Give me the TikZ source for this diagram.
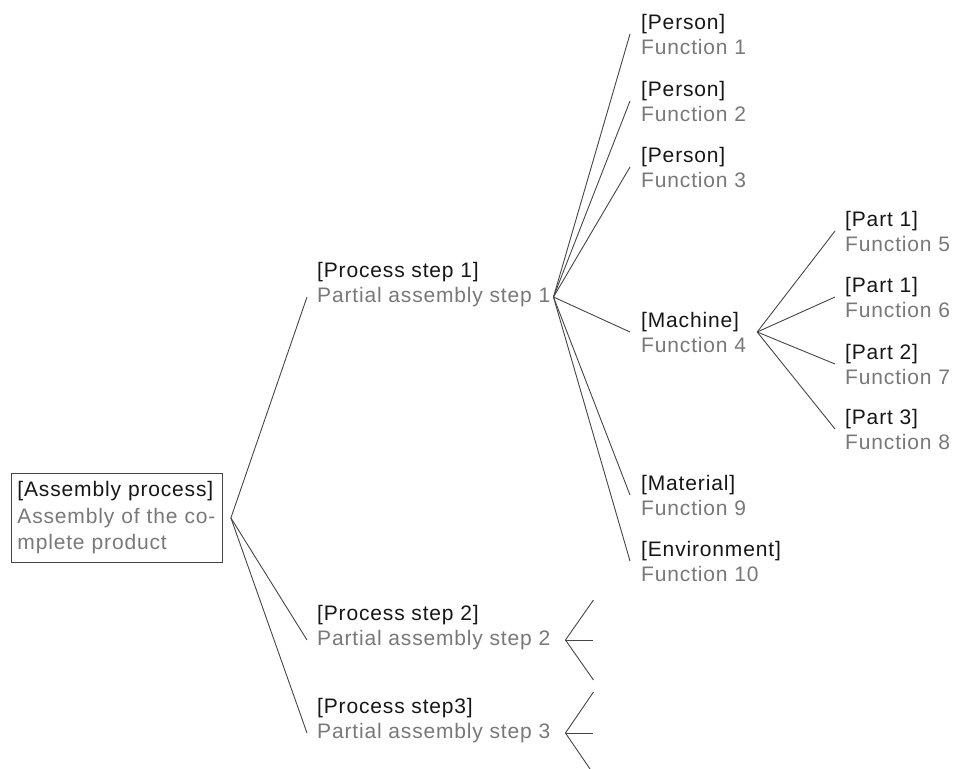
\documentclass[tikz,border=0pt]{standalone}
\usepackage{fontspec}
\setmainfont{Liberation Sans}[LetterSpace=4]
\usetikzlibrary{calc}
\definecolor{ink}{HTML}{161616}
\definecolor{fn}{HTML}{787878}
\definecolor{edge}{HTML}{454545}
% two-line entry: black title over a grey function line
\newcommand{\twoline}[2]{#1\\\textcolor{fn}{#2}}

\begin{document}
\begin{tikzpicture}[x=1pt,y=-1pt,
  every node/.style={inner sep=0pt, text=ink, font=\fontsize{21}{25}\selectfont},
  entry/.style={anchor=west, align=left},
  desc/.style={anchor=west, text=fn},
  link/.style={draw=edge, line width=0.9pt},
]
\clip (0,0) rectangle (955,768);

% root
\node[draw=edge, line width=0.9pt, anchor=north west, minimum width=211pt,
      minimum height=89pt, text width=199pt, inner xsep=6pt, align=left,
      font=\fontsize{21}{26.5}\selectfont] (root) at (11,473)
  {[Assembly process]\\\textcolor{fn}{Assembly of the co-}\\\textcolor{fn}{mplete product}};

% process steps
\node[anchor=west] (s1t) at (317,272) {[Process step 1]};
\node[desc] (s1) at (317,297) {Partial assembly step 1};
\node[anchor=west] (s2t) at (317,615) {[Process step 2]};
\node[desc] (s2) at (317,640) {Partial assembly step 2};
\node[anchor=west] (s3t) at (317,708) {[Process step3]};
\node[desc] (s3) at (317,733) {Partial assembly step 3};

% resources of step 1
\node[entry] (p1) at (641,34) {\twoline{[Person]}{Function 1}};
\node[entry] (p2) at (641,101) {\twoline{[Person]}{Function 2}};
\node[entry] (p3) at (641,167) {\twoline{[Person]}{Function 3}};
\node[entry] (mach) at (641,332) {\twoline{[Machine]}{Function 4}};
\node[entry] (matl) at (641,495) {\twoline{[Material]}{Function 9}};
\node[entry] (env) at (641,561) {\twoline{[Environment]}{Function 10}};

% parts of the machine
\node[entry] (q1) at (845,231) {\twoline{[Part 1]}{Function 5}};
\node[entry] (q2) at (845,297) {\twoline{[Part 1]}{Function 6}};
\node[entry] (q3) at (845,364) {\twoline{[Part 2]}{Function 7}};
\node[entry] (q4) at (845,429) {\twoline{[Part 3]}{Function 8}};

% branching points
\coordinate (rootj) at ([xshift=8pt]root.east);
\coordinate (s1j) at ([xshift=3pt]s1.east);
\coordinate (machj) at ([xshift=11pt]mach.east);
\coordinate (s2j) at ([xshift=15pt]s2.east);
\coordinate (s3j) at ([xshift=15pt]s3.east);

% connectors
\draw[link] (rootj) -- ([xshift=-10pt]s1.west);
\draw[link] (rootj) -- ([xshift=-10pt]s2.west);
\draw[link] (rootj) -- ([xshift=-10pt]s3.west);

\foreach \n in {p1,p2,p3,mach,matl,env}
  \draw[link] (s1j) -- ([xshift=-11pt]\n.west);

\foreach \n in {q1,q2,q3,q4}
  \draw[link] (machj) -- ([xshift=-10pt]\n.west);

% open branches of steps 2 and 3
\coordinate (s2a) at ($(s2j)+(28,-40)$);
\coordinate (s2b) at ($(s2j)+(28,0)$);
\coordinate (s2c) at ($(s2j)+(28,40)$);
\coordinate (s3a) at ($(s3j)+(28,-41)$);
\coordinate (s3b) at ($(s3j)+(28,0)$);
\coordinate (s3c) at ($(s3j)+(28,41)$);
\foreach \e in {s2a,s2b,s2c} \draw[link] (s2j) -- (\e);
\foreach \e in {s3a,s3b,s3c} \draw[link] (s3j) -- (\e);
\end{tikzpicture}
\end{document}
